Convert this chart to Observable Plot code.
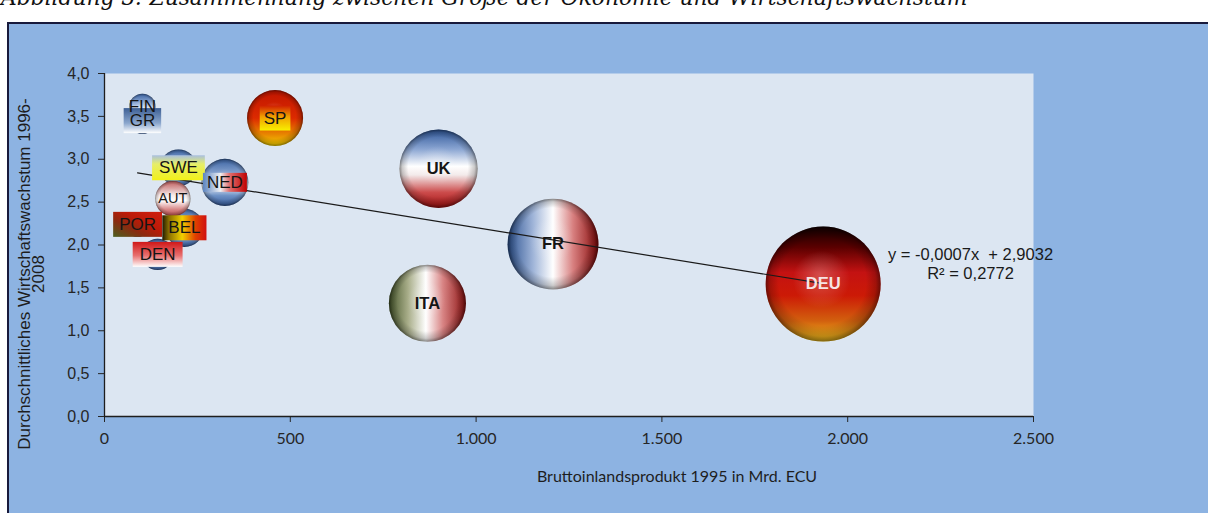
<!DOCTYPE html>
<html><head><meta charset="utf-8">
<script src="https://cdn.jsdelivr.net/npm/d3@7"></script>
<script src="https://cdn.jsdelivr.net/npm/@observablehq/plot@0.6"></script>
<style>
html,body{margin:0;padding:0;background:#fff;}
#wrap{position:relative;width:1208px;height:513px;overflow:hidden;}
#title{position:absolute;left:1px;top:-12px;font:italic 20px "DejaVu Serif";white-space:nowrap;color:#111;line-height:20px;}
#frame{position:absolute;left:7px;top:22px;width:1240px;height:520px;background:#8db3e2;border-top:2px solid #181a3c;border-left:2px solid #181a3c;}
#chart{position:absolute;left:0;top:0;}
</style></head><body>
<div id="wrap">
<div id="title">Abbildung 3: Zusammenhang zwischen Größe der Ökonomie und Wirtschaftswachstum</div>
<div id="frame"></div>
<div id="chart"></div>
</div>
<script>
// ---- data ----
const countries = ["GR","FIN","SP","SWE","NED","BEL","AUT","POR","DEN","UK","ITA","FR","DEU"];
const gdp      = [102, 102, 459, 199, 324, 215, 184, 89, 143, 899, 869, 1207, 1934];
const growth   = [3.45, 3.61, 3.48, 2.90, 2.73, 2.20, 2.54, 2.24, 1.89, 2.89, 1.32, 2.01, 1.545];
const trendSlope = -0.0007;
const trendIntercept = 2.9032;
const xTicks = [0, 500, 1000, 1500, 2000, 2500];
const yTicks = [0, 0.5, 1, 1.5, 2, 2.5, 3, 3.5, 4];
const xLabel = "Bruttoinlandsprodukt 1995 in Mrd. ECU";
const yLabel = "Durchschnittliches Wirtschaftswachstum 1996-\n2008";
const eqLabel = "y = -0,0007x  + 2,9032\nR² = 0,2772";
const clusterSet = ["GR","FIN","SP","SWE","NED","BEL","AUT","POR","DEN"];

// ---- styles ----
const gradients = {
  "s-blue": {dir:"v", stops:[[0,"#3a62a2"],[0.4,"#9db6dc"],[0.58,"#eef3fa"],[0.78,"#6e92c6"],[1,"#34599a"]]},
  "s-sp":   {dir:"v", stops:[[0,"#c01500"],[0.5,"#dc2a00"],[0.8,"#e88a00"],[1,"#f6d400"]]},
  "s-aut":  {dir:"v", stops:[[0,"#c05a5a"],[0.4,"#f3e4e4"],[0.55,"#ffffff"],[0.8,"#d88888"],[1,"#b04444"]]},
  "s-uk":   {dir:"v", stops:[[0,"#2d5597"],[0.25,"#8aa5d2"],[0.47,"#ffffff"],[0.58,"#f3eaea"],[0.8,"#cc4c4c"],[1,"#a31010"]]},
  "s-fr":   {dir:"h", stops:[[0,"#2c5290"],[0.28,"#9fb4d8"],[0.5,"#ffffff"],[0.72,"#d88080"],[1,"#860808"]]},
  "s-ita":  {dir:"h", stops:[[0,"#45552a"],[0.25,"#a9ae8a"],[0.48,"#ffffff"],[0.7,"#d88484"],[1,"#8a1010"]]},
  "s-deu":  {dir:"v", stops:[[0,"#120000"],[0.18,"#5a0000"],[0.4,"#c41212"],[0.6,"#cc1a06"],[0.82,"#d2600e"],[1,"#f4c21e"]]},
  "b-gr":   {dir:"v", stops:[[0,"#3d5f94"],[0.6,"#8aa6cd"],[1,"#ffffff"]]},
  "b-swe":  {dir:"v", stops:[[0,"#a9bfdf"],[0.35,"#e6ee6a"],[1,"#f2f018"]]},
  "b-ned":  {dir:"h", stops:[[0,"#5b84c0"],[0.4,"#eef0f4"],[0.6,"#e07070"],[1,"#c00000"]]},
  "b-sp":   {dir:"v", stops:[[0,"#d02000"],[0.45,"#f0a000"],[1,"#f8f000"]]},
  "b-por":  {dir:"d", stops:[[0,"#4b6020"],[0.35,"#8a2a10"],[0.6,"#bc1a08"],[1,"#d02010"]]},
  "b-bel":  {dir:"h", stops:[[0,"#201a00"],[0.15,"#8a7000"],[0.45,"#f0d000"],[0.75,"#e04000"],[1,"#d01010"]]},
  "b-den":  {dir:"v", stops:[[0,"#d01818"],[0.55,"#e87070"],[1,"#ffffff"]]}
};
const sphereFill = {GR:"s-blue",FIN:"s-blue",SP:"s-sp",SWE:"s-blue",NED:"s-blue",BEL:"s-blue",AUT:"s-aut",POR:"s-blue",DEN:"s-blue",UK:"s-uk",ITA:"s-ita",FR:"s-fr",DEU:"s-deu"};
const boxStyle = {GR:{g:"b-gr",px:6,py:3}, SP:{g:"b-sp",px:4,py:3}, SWE:{g:"b-swe",px:7,py:3}, NED:{g:"b-ned",px:4,py:0},
  POR:{g:"b-por",px:6,py:3}, BEL:{g:"b-bel",px:6,py:3}, DEN:{g:"b-den",px:7,py:3}};

// ---- build ----
const loc = d3.formatLocale({decimal:",", thousands:".", grouping:[3], currency:["","€"]});
const yFmt = loc.format(".1f");
const xFmt = loc.format(",.0f");
const data = countries.map((c,i)=>({c, x:gdp[i], y:growth[i]}));
const clusterData = data.filter(d=>clusterSet.includes(d.c));
const bigData = data.filter(d=>!clusterSet.includes(d.c));
const [xmin, xmax] = d3.extent(gdp);
const trend = [xmin, xmax].map(x=>({x, y: trendIntercept + trendSlope*x}));

const sphereMarks = data.flatMap(d => [
  Plot.dot([d], {x:"x", y:"y", r:"x", fill:`url(#${sphereFill[d.c]})`, stroke:"none", sort:null}),
  Plot.dot([d], {x:"x", y:"y", r:"x", fill:"url(#shine)", stroke:"none", sort:null})
]);

const plot = Plot.plot({
  width:1208, height:513,
  marginLeft:104, marginRight:175, marginTop:73, marginBottom:97,
  style:{background:"transparent", overflow:"visible", fontFamily:"'Liberation Sans', Arial, sans-serif", fontSize:"16px", color:"#1e1e1e"},
  x:{domain:[0,2500]},
  y:{domain:[0,4]},
  r:{domain:[0, d3.max(gdp)], range:[0, 57.5]},
  marks:[
    Plot.frame({fill:"#dce6f2", stroke:null}),
    Plot.axisY({ticks:yTicks, tickFormat:yFmt, tickSize:6, tickPadding:9, label:null, fontSize:16, color:"#262626"}),
    Plot.axisX({ticks:xTicks, tickFormat:xFmt, tickSize:6, tickPadding:10, label:null, fontSize:16, fontFamily:"Lato, sans-serif", color:"#262626"}),
    Plot.ruleX([0], {stroke:"#1e1e1e", strokeWidth:1.3}),
    Plot.ruleY([0], {stroke:"#1e1e1e", strokeWidth:1.3}),
    ...sphereMarks,
    Plot.line(trend, {x:"x", y:"y", stroke:"#1a1a1a", strokeWidth:1.2}),
    Plot.text(clusterData, {x:"x", y:"y", text:"c", fill:"#151515", fontSize:d=>d.c==="AUT"?14.5:17}),
    Plot.text(bigData, {x:"x", y:"y", text:"c", fill:d=>d.c==="DEU"?"#f6e4e4":"#151515", fontSize:16.5, fontWeight:"bold"}),
    Plot.text([eqLabel], {frameAnchor:"top-right", dx:-63, dy:172, textAnchor:"middle", lineHeight:1.2, fontSize:16.5, fill:"#1a1a1a"}),
    Plot.text([yLabel], {frameAnchor:"left", rotate:-90, dx:-72, dy:29, textAnchor:"middle", lineAnchor:"middle", lineHeight:0.85, fontSize:17, fill:"#1e1e1e"}),
    Plot.text([xLabel], {frameAnchor:"bottom", dx:108, dy:65, fontSize:16, fontFamily:"Lato, sans-serif", fill:"#1e1e1e"})
  ]
});
document.getElementById("chart").append(plot);

const svg = d3.select(plot);
const defs = svg.insert("defs", ":first-child");
for (const [id, g] of Object.entries(gradients)) {
  const lg = defs.append("linearGradient").attr("id", id);
  if (g.dir === "v") lg.attr("x1",0).attr("y1",0).attr("x2",0).attr("y2",1);
  else if (g.dir === "h") lg.attr("x1",0).attr("y1",0).attr("x2",1).attr("y2",0);
  else lg.attr("x1",0).attr("y1",1).attr("x2",1).attr("y2",0);
  for (const [o,c] of g.stops) lg.append("stop").attr("offset",o).attr("stop-color",c);
}
const sh = defs.append("radialGradient").attr("id","shine").attr("cx",0.5).attr("cy",0.5).attr("r",0.5).attr("fx",0.47).attr("fy",0.42);
for (const [o,c,a] of [[0,"#fff",0.25],[0.5,"#fff",0],[0.76,"#000",0],[0.92,"#000",0.2],[1,"#000",0.48]])
  sh.append("stop").attr("offset",o).attr("stop-color",c).attr("stop-opacity",a);

// label boxes behind the cluster labels (first text mark group)
const svgRect = plot.getBoundingClientRect();
const clusterNode = plot.querySelectorAll('g[aria-label="text"]')[0];
const boxG = d3.create("svg:g").node();
clusterNode.parentNode.insertBefore(boxG, clusterNode);
d3.select(clusterNode).selectAll("text").each(function(_, i){
  const st = boxStyle[clusterData[i].c];
  if (!st) return;
  const b = this.getBoundingClientRect();
  d3.select(boxG).append("rect")
    .attr("x", b.left - svgRect.left - st.px).attr("y", b.top - svgRect.top - st.py)
    .attr("width", b.width + 2*st.px).attr("height", b.height + 2*st.py)
    .attr("fill", `url(#${st.g})`);
});

// fit title width
const t = document.getElementById("title");
const w = t.getBoundingClientRect().width;
t.style.fontSize = (20 * 967 / w) + "px";
</script>
</body></html>
